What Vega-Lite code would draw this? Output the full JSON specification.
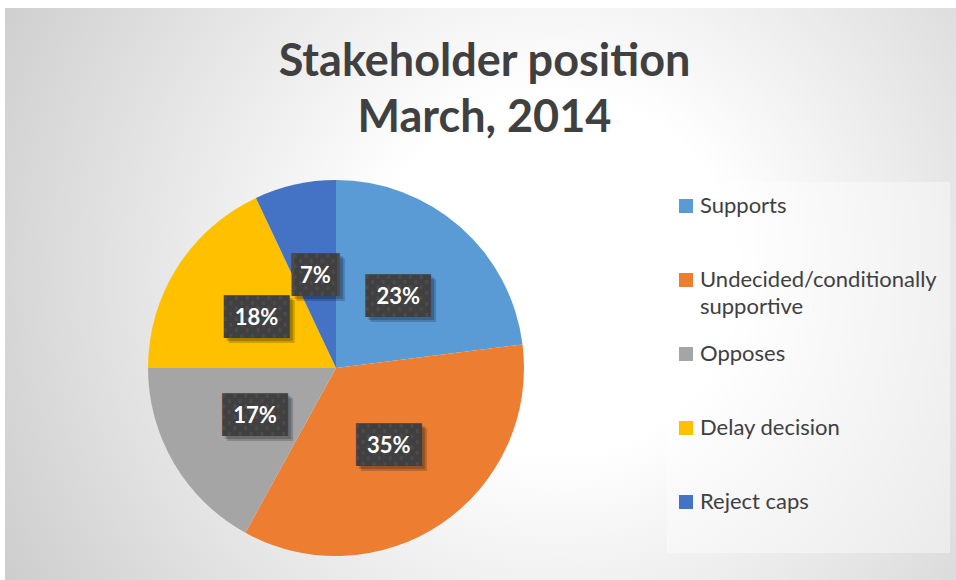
{
  "$schema": "https://vega.github.io/schema/vega-lite/v6.json",
  "width": 951,
  "height": 572,
  "autosize": {"type": "none"},
  "padding": {"left": 5, "top": 8, "right": 0, "bottom": 0},
  "background": "white",
  "view": {
    "stroke": null,
    "fill": {
      "gradient": "radial",
      "x1": 0.58, "y1": 0.48, "r1": 0,
      "x2": 0.58, "y2": 0.48, "r2": 0.75,
      "stops": [
        {"offset": 0, "color": "#ffffff"},
        {"offset": 0.25, "color": "#ffffff"},
        {"offset": 1, "color": "#c4c4c4"}
      ]
    }
  },
  "title": {
    "text": ["Stakeholder position", "March, 2014"],
    "font": "Lato",
    "fontSize": 45,
    "fontWeight": "bold",
    "color": "#404040",
    "lineHeight": 56,
    "anchor": "middle",
    "frame": "group",
    "baseline": "top",
    "offset": 0,
    "dy": 133,
    "dx": 4
  },
  "config": {
    "view": {"stroke": null},
    "style": {"guide-label": {"lineHeight": 27}}
  },
  "data": {
    "values": [
      {"position": "Supports", "share": 0.23, "rank": 1},
      {"position": "Undecided/conditionally supportive", "share": 0.35, "rank": 2},
      {"position": "Opposes", "share": 0.17, "rank": 3},
      {"position": "Delay decision", "share": 0.18, "rank": 4},
      {"position": "Reject caps", "share": 0.07, "rank": 5}
    ]
  },
  "layer": [
    {
      "mark": {"type": "arc", "outerRadius": 188, "x": 331, "y": 360, "stroke": null},
      "encoding": {
        "theta": {"field": "share", "type": "quantitative", "stack": true},
        "order": {"field": "rank", "type": "quantitative"},
        "color": {
          "field": "position",
          "type": "nominal",
          "scale": {
            "domain": ["Supports", "Undecided/conditionally supportive", "Opposes", "Delay decision", "Reject caps"],
            "range": ["#5B9BD5", "#ED7D31", "#A5A5A5", "#FFC000", "#4472C4"]
          },
          "legend": {
            "orient": "none",
            "legendX": 662,
            "legendY": 174,
            "title": null,
            "padding": 13,
            "fillColor": "rgba(255,255,255,0.4)",
            "strokeColor": null,
            "symbolType": "square",
            "symbolSize": 196,
            "symbolStrokeWidth": 0,
            "labelFont": "Lato",
            "labelFontSize": 22,
            "labelColor": "#404040",
            "labelLimit": 400,
            "labelOffset": 3,
            "symbolOffset": -5,
            "rowPadding": 25,
            "labelExpr": "datum.label == 'Undecided/conditionally supportive' ? ['Undecided/conditionally', 'supportive'] : [datum.label, '']"
          }
        }
      }
    },
    {
      "mark": {"type": "text", "radius": 94, "x": 331, "y": 360, "font": "DejaVu Sans Mono", "fontSize": 36, "color": "#000000", "opacity": 0.18, "dx": 5, "dy": 5},
      "encoding": {
        "theta": {"field": "share", "type": "quantitative", "stack": true},
        "order": {"field": "rank", "type": "quantitative"},
        "detail": {"field": "position", "type": "nominal"},
        "text": {"condition": {"test": "datum.share < 0.1", "value": "▕██▏"}, "value": "███"}
      }
    },
    {
      "mark": {"type": "text", "radius": 94, "x": 331, "y": 360, "font": "DejaVu Sans Mono", "fontSize": 36, "color": "#000000", "opacity": 0.2, "dx": 3, "dy": 3},
      "encoding": {
        "theta": {"field": "share", "type": "quantitative", "stack": true},
        "order": {"field": "rank", "type": "quantitative"},
        "detail": {"field": "position", "type": "nominal"},
        "text": {"condition": {"test": "datum.share < 0.1", "value": "▕██▏"}, "value": "███"}
      }
    },
    {
      "mark": {"type": "text", "radius": 94, "x": 331, "y": 360, "font": "DejaVu Sans Mono", "fontSize": 36, "color": "#404040"},
      "encoding": {
        "theta": {"field": "share", "type": "quantitative", "stack": true},
        "order": {"field": "rank", "type": "quantitative"},
        "detail": {"field": "position", "type": "nominal"},
        "text": {"condition": {"test": "datum.share < 0.1", "value": "▕██▏"}, "value": "███"}
      }
    },
    {
      "mark": {"type": "text", "radius": 94, "x": 331, "y": 360, "font": "DejaVu Sans Mono", "fontSize": 36, "color": "#606060", "opacity": 0.35},
      "encoding": {
        "theta": {"field": "share", "type": "quantitative", "stack": true},
        "order": {"field": "rank", "type": "quantitative"},
        "detail": {"field": "position", "type": "nominal"},
        "text": {"condition": {"test": "datum.share < 0.1", "value": "▕░░▏"}, "value": "░░░"}
      }
    },
    {
      "mark": {"type": "text", "radius": 94, "x": 331, "y": 360, "font": "Lato", "fontSize": 22, "fontWeight": "bold", "color": "#ffffff"},
      "encoding": {
        "theta": {"field": "share", "type": "quantitative", "stack": true},
        "order": {"field": "rank", "type": "quantitative"},
        "detail": {"field": "position", "type": "nominal"},
        "text": {"field": "share", "type": "quantitative", "format": ".0%"}
      }
    }
  ]
}
